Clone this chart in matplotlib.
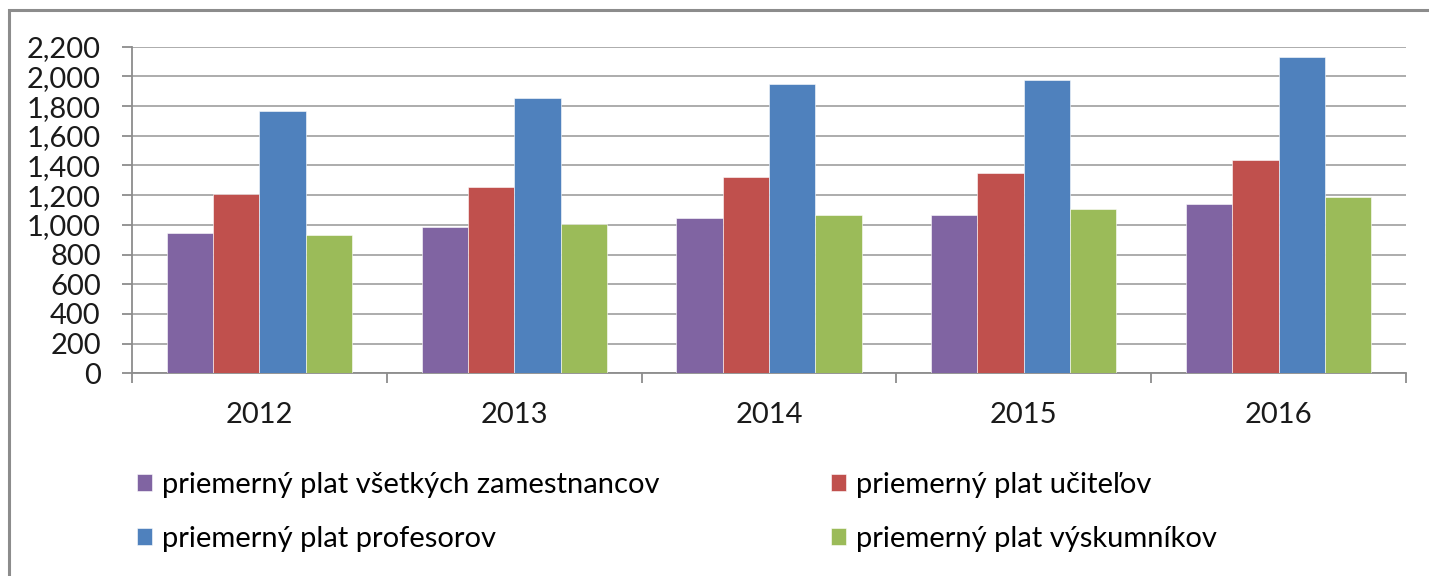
import matplotlib.pyplot as plt
import numpy as np
from matplotlib.patches import Rectangle
from matplotlib.ticker import FuncFormatter

years = ["2012", "2013", "2014", "2015", "2016"]
labels = ["priemerný plat všetkých zamestnancov", "priemerný plat učiteľov",
          "priemerný plat profesorov", "priemerný plat výskumníkov"]
vsetci = [943, 987, 1046, 1066, 1138]
ucitelia = [1205, 1253, 1324, 1347, 1436]
profesori = [1766, 1856, 1950, 1973, 2132]
vyskumnici = [933, 1003, 1066, 1108, 1189]
colors = ["#8064A2", "#C0504D", "#4F81BD", "#9BBB59"]

plt.rcParams["font.family"] = ["Lato", "DejaVu Sans"]
fs = 21

fig = plt.figure(figsize=(14.29, 5.76), dpi=100)
W, H = 1429, 576
ax = fig.add_axes([132 / W, 1 - 373.3 / H, (1406 - 132) / W, (373.3 - 46.7) / H])

# outer chart frame (only left and top visible in the original)
fig.add_artist(Rectangle((9 / W, -0.1), 1.2, (1 - 10 / H) + 0.1, transform=fig.transFigure,
                         fill=False, edgecolor="#8c8c8c", linewidth=2.2))

x = np.arange(len(years))
bw = 1 / 5.5
series = [vsetci, ucitelia, profesori, vyskumnici]
bars = []
for i, s in enumerate(series):
    b = ax.bar(x + (i - 1.5) * bw, s, bw, color=colors[i], label=labels[i], zorder=3,
               edgecolor="white", linewidth=0.4)
    bars.append(b)

ax.set_xlim(-0.5, len(years) - 0.5)
ax.set_ylim(0, 2200)
ax.set_yticks(np.arange(0, 2201, 200))
ax.yaxis.set_major_formatter(FuncFormatter(lambda v, p: f"{int(v):,}"))
ax.grid(axis="y", color="#a6a6a6", linewidth=1.3, zorder=0)
for sp in ["top", "right"]:
    ax.spines[sp].set_visible(False)
ax.spines["left"].set_color("#8c8c8c")
ax.spines["bottom"].set_color("#8c8c8c")
ax.spines["left"].set_linewidth(1.3)
ax.spines["bottom"].set_linewidth(1.3)

ax.set_xticks(x)
ax.set_xticklabels(years)
ax.set_xticks(np.arange(-0.5, len(years)), minor=True)
ax.tick_params(axis="x", which="major", length=0, pad=21, labelsize=fs, colors="#1a1a1a")
ax.tick_params(axis="x", which="minor", length=7.5, width=1.3, color="#8c8c8c")
ax.tick_params(axis="y", length=7.5, width=1.3, color="#8c8c8c", pad=15, labelsize=fs,
               labelcolor="#1a1a1a")

h = [b for b in bars]
kw = dict(loc="upper left", frameon=False, fontsize=fs, handlelength=0.5, handleheight=0.5,
          handletextpad=0.35, labelspacing=0.95, borderpad=0, borderaxespad=0)
fig.legend([h[0], h[2]], [labels[0], labels[2]], bbox_to_anchor=(137 / W, 1 - 472 / H), **kw)
fig.legend([h[1], h[3]], [labels[1], labels[3]], bbox_to_anchor=(831 / W, 1 - 472 / H), **kw)

fig.savefig("out.png", dpi=100)
